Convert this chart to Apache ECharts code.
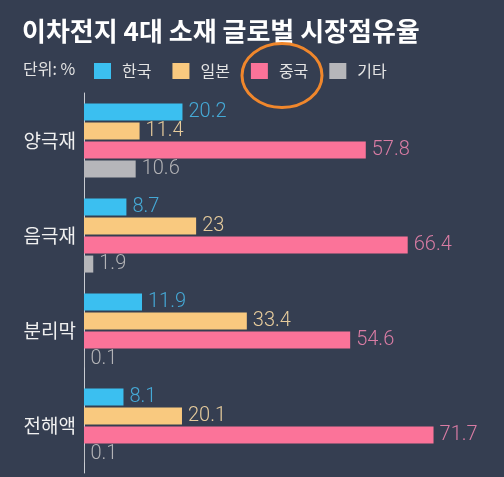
<!DOCTYPE html>
<html><head><meta charset="utf-8">
<script src="https://cdn.jsdelivr.net/npm/echarts@6/dist/echarts.min.js"></script>
<style>html,body{margin:0;padding:0;background:#353e51;}#c{width:504px;height:477px;}</style>
</head><body><div id="c"></div>
<script>
const categories = ['양극재', '음극재', '분리막', '전해액'];
const korea = [20.2, 8.7, 11.9, 8.1];
const japan = [11.4, 23, 33.4, 20.1];
const china = [57.8, 66.4, 54.6, 71.7];
const others = [10.6, 1.9, 0.1, 0.1];
const seriesNames = ['한국', '일본', '중국', '기타'];

const barColors = ['#3bbff0', '#f9c97f', '#fb7399', '#b6b6ba'];
const labelColors = ['#45a9d6', '#e6cb9c', '#d97ca4', '#b3b3b6'];
const dataSets = [korea, japan, china, others];
const FONT = '"Noto Sans CJK KR", "Noto Sans", sans-serif';

const chart = echarts.init(document.getElementById('c'));
chart.setOption({
  backgroundColor: '#353e51',
  animation: false,
  title: {
    text: '이차전지 4대 소재 글로벌 시장점유율',
    left: 22, top: 18, padding: 0,
    textStyle: { color: '#ffffff', fontSize: 26, fontWeight: 'bold', fontFamily: FONT }
  },
  legend: {
    left: 94, top: 63, padding: 0,
    itemWidth: 17, itemHeight: 16, itemGap: 21,
    icon: 'rect',
    data: seriesNames,
    textStyle: { color: '#e4e4e4', fontSize: 16, fontFamily: FONT, padding: [0, 0, 0, 6] }
  },
  graphic: [
    { type: 'text', left: 23, top: 61,
      style: { text: '단위: %', fill: '#e4e4e4', font: '16px ' + FONT } },
    { type: 'ellipse', shape: { cx: 282, cy: 75.5, rx: 40, ry: 32 },
      style: { fill: 'none', stroke: '#f0872c', lineWidth: 3 }, z: 100 }
  ],
  grid: { left: 84, right: 30, top: 93, bottom: 4, containLabel: false },
  xAxis: { type: 'value', min: 0, max: 80, show: false },
  yAxis: {
    type: 'category', data: categories, inverse: true,
    axisLine: { show: true, lineStyle: { color: '#c9ccd2', width: 1 } },
    axisTick: { show: false },
    axisLabel: { color: '#f0f0f0', fontSize: 19, fontFamily: FONT, margin: 8, padding: [5, 0, 0, 0] }
  },
  series: seriesNames.map((name, i) => ({
    name: name, type: 'bar', data: dataSets[i],
    barWidth: 17, barGap: '12%',
    itemStyle: { color: barColors[i] },
    label: {
      show: true, position: 'right', distance: 6,
      color: labelColors[i], fontSize: 20, fontWeight: 300,
      fontFamily: 'Roboto, "Noto Sans", sans-serif'
    }
  }))
});
</script></body></html>
